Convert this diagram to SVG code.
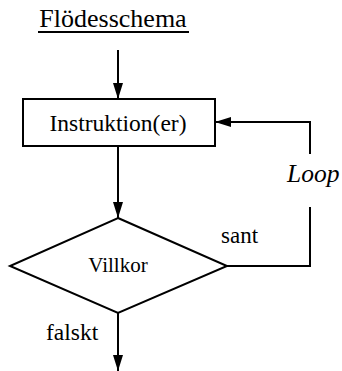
<svg xmlns="http://www.w3.org/2000/svg" width="342" height="371" viewBox="0 0 342 371">
<style>
.s{fill:none;stroke:#000;stroke-width:2}
text{fill:#000}
</style>
<defs>
<marker id="ah" markerUnits="userSpaceOnUse" markerWidth="16" markerHeight="10" refX="16" refY="5" orient="auto">
<path d="M0,0 L16,5 L0,10 Z" fill="#000"/>
</marker>
</defs>
<rect width="342" height="371" fill="#fff"/>
<g font-family="Liberation Serif, DejaVu Serif, serif">
<g id="title">
<text x="113" y="27" font-size="26" text-anchor="middle">Flödesschema</text>
<line x1="38" y1="32" x2="189" y2="32" stroke="#000" stroke-width="2"/>
</g>
<g id="instr">
<rect class="s" x="23" y="99" width="192" height="47"/>
<text x="118" y="131" font-size="23.5" text-anchor="middle">Instruktion(er)</text>
</g>
<g id="cond">
<polygon class="s" points="118,218 227,266 118,313 10,266"/>
<text x="118" y="272" font-size="21" text-anchor="middle">Villkor</text>
</g>
<g id="connectors">
<line class="s" x1="118" y1="50" x2="118" y2="99" marker-end="url(#ah)"/>
<line class="s" x1="118" y1="146" x2="118" y2="218" marker-end="url(#ah)"/>
<polyline class="s" points="227,266 310,266 310,207"/>
<polyline class="s" points="310,154 310,122 215,122" marker-end="url(#ah)"/>
<line class="s" x1="118" y1="313" x2="118" y2="371" marker-end="url(#ah)"/>
</g>
<g id="labels">
<text x="221" y="243" font-size="23">sant</text>
<text x="46" y="340" font-size="23.5">falskt</text>
<text x="287" y="182" font-size="25.5" font-style="italic">Loop</text>
</g>
</g>
</svg>
